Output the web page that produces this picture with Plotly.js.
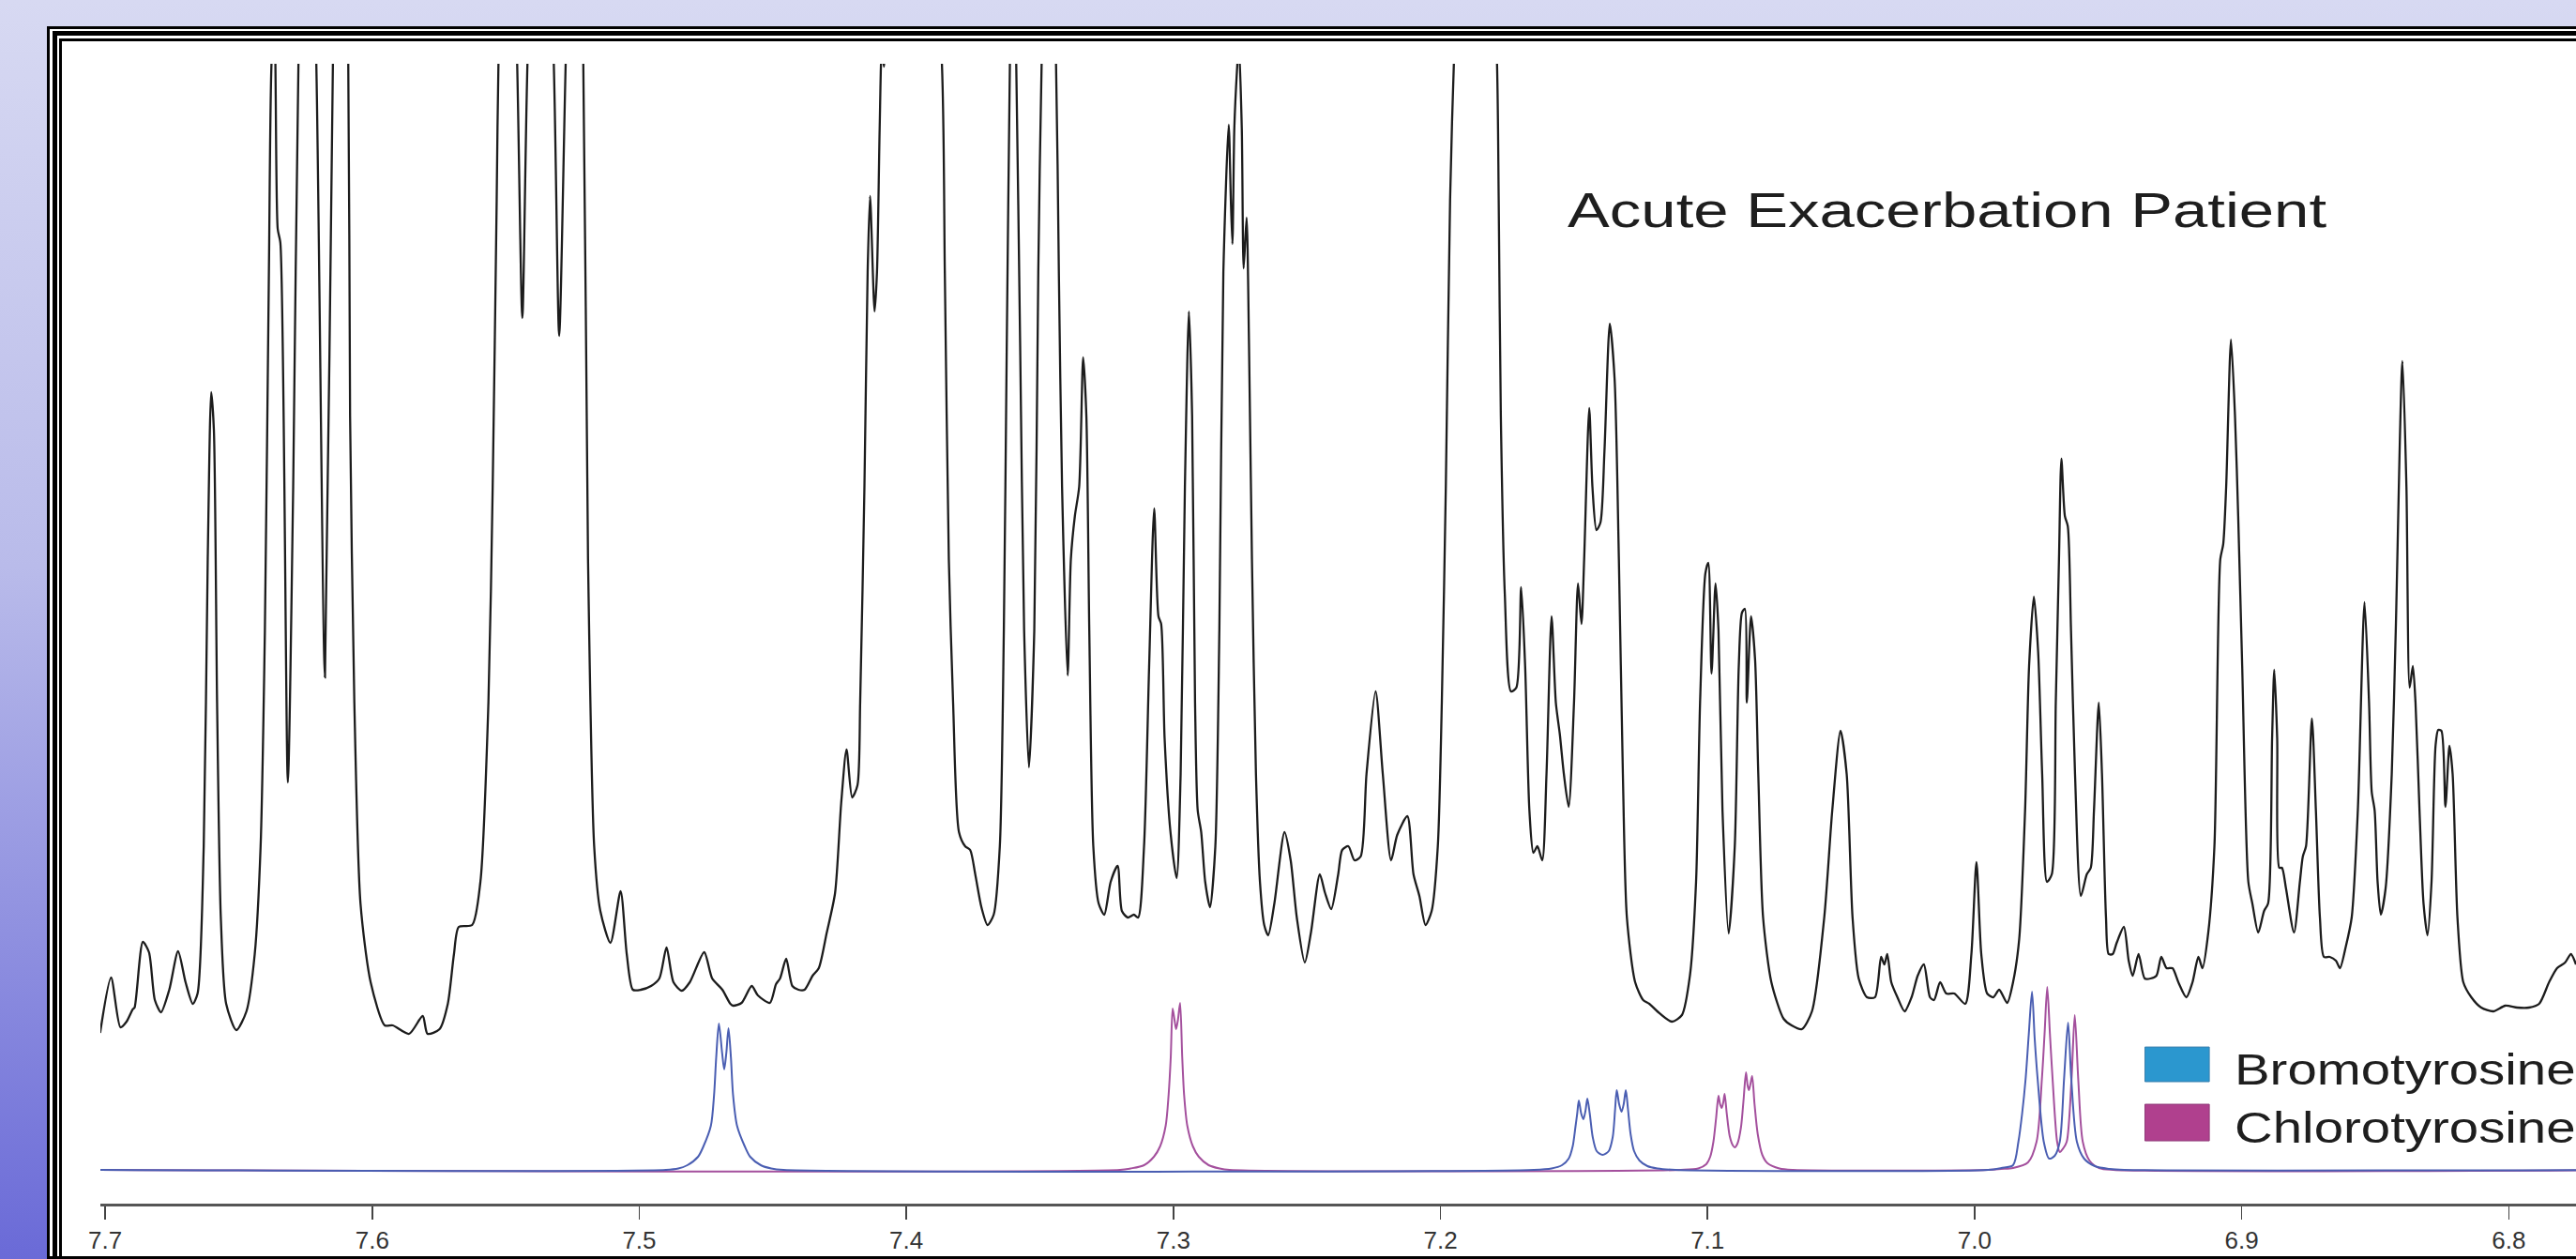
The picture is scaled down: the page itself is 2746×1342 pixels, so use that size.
<!DOCTYPE html>
<html>
<head>
<meta charset="utf-8">
<script src="https://cdn.plot.ly/plotly-3.0.1.min.js"></script>
<style>
  html, body { margin:0; padding:0; width:2746px; height:1342px; overflow:hidden; }
  body { background: linear-gradient(180deg, #d7d9f2 0%, #b9bbea 45%, #6a6ad7 100%); position:relative; }
  .fr { position:absolute; box-sizing:border-box; background:#fff; }
  #fa { left:50px; top:28px; width:2900px; height:1314px; border:3px solid #000; }
  #fb { left:56px; top:33px; width:2900px; height:1306px; border:5px solid #000; border-bottom:none; }
  #fc { left:63px; top:41px; width:2900px; height:1298px; border:3px solid #000; border-bottom:none; }
  #plot { position:absolute; left:0; top:0; width:2830px; height:1342px; }
  #plot text.annotation-text { transform-box: fill-box; transform-origin: 0% 50%; transform: scaleX(1.2); }
  #plot g.annotation[data-index="0"] text.annotation-text { transform: scaleX(1.29); }
</style>
</head>
<body>
<div class="fr" id="fa"></div>
<div class="fr" id="fb"></div>
<div class="fr" id="fc"></div>
<div id="plot"></div>
<script>
// ---------------- data (chemical shift in ppm, intensity in arbitrary units) ----------------
const patientShift = [
  7.7019,7.6978,7.6943,7.6920,7.6897,7.6890,7.6859,7.6836,7.6814,7.6791,7.6760,7.6727,7.6699,7.6672,7.6654,
  7.6631,7.6616,7.6603,7.6593,7.6581,7.6567,7.6547,7.6509,7.6471,7.6440,7.6418,7.6402,7.6387,7.6376,7.6366,
  7.6354,7.6344,7.6316,7.6296,7.6276,7.6244,7.6210,7.6177,7.6147,7.6119,7.6090,7.6083,7.6067,7.6044,7.6006,
  7.5953,7.5923,7.5862,7.5811,7.5793,7.5748,7.5717,7.5694,7.5676,7.5626,7.5595,7.5565,7.5549,7.5534,7.5527,
  7.5493,7.5458,7.5438,7.5418,7.5370,7.5321,7.5300,7.5275,7.5242,7.5210,7.5192,7.5169,7.5146,7.5108,7.5070,
  7.5047,7.5024,7.4994,7.4956,7.4925,7.4898,7.4872,7.4841,7.4811,7.4757,7.4727,7.4689,7.4659,
  7.4648,7.4617,7.4579,7.4556,7.4511,7.4488,7.4473,7.4450,7.4427,7.4404,7.4381,7.4351,7.4328,7.4298,7.4267,
  7.4244,7.4224,7.4203,7.4183,7.4173,7.4157,7.4145,7.4136,7.4119,7.4110,7.4100,7.4092,7.4084,7.4076,7.3978,
  7.3868,7.3856,7.3841,7.3825,7.3803,7.3780,7.3761,7.3742,7.3719,7.3696,7.3673,7.3650,7.3635,7.3624,7.3612,
  7.3602,7.3589,7.3574,7.3559,7.3541,7.3521,7.3506,7.3493,7.3468,7.3440,7.3429,7.3417,7.3396,7.3384,7.3369,
  7.3353,7.3338,7.3326,7.3315,7.3300,7.3280,7.3259,7.3235,7.3209,7.3193,7.3171,7.3148,7.3132,7.3110,7.3091,
  7.3072,7.3056,7.3046,7.3033,7.3011,7.2988,7.2973,7.2957,7.2942,7.2930,7.2919,7.2909,7.2896,7.2881,7.2863,
  7.2843,7.2828,7.2813,7.2793,7.2785,7.2779,7.2772,7.2762,7.2755,7.2744,7.2737,7.2726,7.2717,7.2706,7.2691,
  7.2676,7.2660,7.2645,7.2622,7.2584,7.2561,7.2538,7.2508,7.2485,7.2452,7.2432,7.2409,
  7.2383,7.2368,7.2345,7.2322,7.2299,7.2277,7.2243,7.2216,7.2185,7.2162,7.2124,7.2101,7.2079,7.2056,7.2033,
  7.2010,7.1995,7.1980,7.1964,7.1949,7.1870,7.1789,7.1782,7.1774,7.1759,7.1736,7.1716,7.1698,7.1683,7.1667,
  7.1652,7.1637,7.1619,7.1603,7.1584,7.1568,7.1553,7.1538,7.1520,7.1500,7.1485,7.1472,7.1462,7.1443,7.1431,
  7.1416,7.1401,7.1386,7.1366,7.1348,7.1332,7.1317,7.1302,7.1271,7.1241,7.1218,7.1188,7.1134,7.1096,7.1066,
  7.1043,7.1028,7.1008,7.0997,7.0985,7.0970,7.0959,7.0944,7.0921,7.0898,7.0883,7.0871,7.0860,7.0853,7.0837,
  7.0822,7.0810,7.0792,7.0761,7.0715,7.0685,7.0647,7.0609,7.0563,7.0533,7.0502,7.0479,7.0457,7.0434,7.0403,
  7.0373,7.0350,7.0338,7.0327,7.0312,7.0289,7.0262,7.0236,7.0213,7.0190,7.0167,7.0152,7.0129,7.0106,7.0076,
  7.0035,7.0012,6.9993,6.9975,6.9953,6.9930,6.9908,6.9878,6.9856,6.9833,6.9811,6.9796,6.9778,6.9762,6.9747,
  6.9729,6.9711,6.9696,6.9684,6.9675,6.9662,6.9651,6.9639,6.9624,6.9602,6.9580,6.9565,6.9553,6.9535,6.9523,
  6.9508,6.9498,6.9483,6.9468,6.9441,6.9423,6.9408,6.9386,6.9363,6.9341,6.9319,6.9301,6.9281,6.9259,6.9237,
  6.9207,6.9184,6.9162,6.9147,6.9125,6.9102,6.9080,6.9069,6.9058,6.9040,6.9025,6.9013,6.8998,6.8975,6.8960,
  6.8938,6.8916,6.8901,6.8886,6.8878,6.8867,6.8859,6.8849,6.8834,6.8804,6.8782,6.8771,6.8759,6.8737,6.8722,
  6.8707,6.8692,6.8670,6.8647,6.8632,6.8610,6.8588,6.8565,6.8540,6.8523,6.8513,6.8502,6.8491,6.8479,6.8461,
  6.8438,6.8423,6.8398,6.8383,6.8371,6.8359,6.8349,6.8334,6.8319,6.8304,6.8289,6.8274,6.8264,6.8252,6.8237,
  6.8222,6.8210,6.8192,6.8170,6.8140,6.8103,6.8058,6.8013,6.7968,6.7924,6.7886,6.7849,6.7819,6.7789,6.7767,
  6.7748
];
const patientIntensity = [
  14.6,20.5,15.2,15.8,17.1,17.3,24.3,23.2,18.1,16.8,19.2,23.3,20.0,17.7,18.8,
  34.5,65.1,82.9,78.9,49.8,26.9,17.7,14.9,16.9,23.0,34.5,57.5,95.7,118.7,121.0,
  100.3,98.8,41.3,72.8,118.7,150.0,118.7,52.5,118.7,150.0,118.7,80.4,49.8,28.4,20.0,
  15.4,15.4,14.5,16.4,14.5,15.0,17.7,23.0,25.9,26.1,30.7,49.8,72.8,103.4,118.7,
  150.0,118.7,90.8,118.7,150.0,118.7,88.9,118.7,150.0,118.7,65.1,34.5,27.6,24.2,29.7,
  23.0,19.2,19.2,19.6,20.4,23.7,20.0,19.1,20.0,23.2,20.4,19.2,17.7,
  17.5,17.8,19.6,18.6,17.8,19.8,20.4,22.5,19.6,19.2,19.2,20.7,21.5,25.3,29.5,
  39.1,44.8,39.7,41.0,49.8,72.8,95.7,103.8,91.5,95.7,111.0,119.5,117.6,125.0,160.0,
  118.7,95.7,65.1,49.8,36.0,34.5,34.1,31.5,28.0,26.1,27.2,34.5,57.5,88.1,118.7,
  135.0,118.7,88.1,57.5,42.9,57.5,95.7,118.7,140.0,118.7,95.7,72.8,52.7,65.1,69.7,
  72.8,86.6,80.4,57.5,34.5,28.4,27.2,30.7,32.4,27.6,26.9,27.2,26.9,34.5,53.6,
  70.5,59.0,58.2,46.0,36.0,31.1,42.2,72.8,91.5,80.4,49.8,38.3,36.0,30.7,28.0,
  34.5,57.5,95.7,111.4,103.4,98.7,111.0,117.2,120.0,111.0,96.1,101.5,88.1,65.1,42.2,
  30.7,26.1,25.0,28.4,36.0,33.0,26.9,22.1,25.3,31.5,29.5,27.8,
  31.5,34.1,34.5,33.0,33.4,42.2,51.0,42.2,33.0,35.7,37.7,31.5,29.2,26.1,27.6,
  34.5,49.8,72.8,103.4,118.7,170.0,118.7,103.4,80.4,61.3,51.0,51.4,62.1,53.7,38.3,
  33.8,34.5,33.0,42.2,59.0,49.8,46.4,42.2,38.7,49.8,62.5,58.2,65.1,81.2,72.8,
  68.2,69.0,76.6,90.2,84.3,65.1,42.2,26.9,20.0,18.1,17.7,16.9,15.8,16.5,20.7,
  30.7,49.8,63.6,64.7,52.9,62.5,57.5,38.3,25.2,34.5,53.7,59.4,59.8,49.8,59.0,
  54.4,42.2,26.9,20.0,16.1,15.4,15.0,16.9,26.9,38.3,46.8,42.2,26.9,20.4,18.4,
  18.4,22.7,21.9,23.0,20.0,18.4,16.9,18.4,20.7,21.9,18.4,18.1,20.0,18.8,18.8,
  17.7,23.0,32.8,23.0,18.8,18.4,19.2,17.8,20.0,24.6,38.3,53.7,61.1,55.2,42.2,
  30.7,31.5,49.8,65.1,75.8,69.7,68.6,57.5,42.2,29.2,31.5,32.2,38.3,49.8,42.2,
  26.9,23.0,23.0,24.2,25.9,22.3,20.7,23.0,20.4,20.4,20.7,22.7,21.5,21.5,20.0,
  18.4,20.0,22.7,21.5,25.3,34.5,65.1,66.7,72.8,88.5,80.4,69.7,53.7,30.7,28.4,
  25.3,27.6,28.4,46.0,53.3,46.0,32.2,32.2,30.0,25.3,30.7,33.4,34.5,48.1,38.3,
  26.9,22.7,22.7,22.3,21.5,23.8,26.9,38.3,60.5,49.8,40.3,38.3,30.7,27.2,30.0,
  42.2,57.5,86.2,72.8,51.4,53.7,49.8,38.3,28.4,25.0,30.7,45.2,46.9,46.8,38.7,
  45.2,42.2,26.9,20.0,18.4,17.3,16.9,17.5,17.3,17.3,17.7,20.0,21.5,22.1,23.0,
  21.9
];

const bromoShift = [
  7.7018,7.4900,7.4854,7.4820,7.4780,7.4760,7.4732,7.4720,7.4712,7.4702,7.4690,7.4682,7.4674,7.4666,
  7.4657,7.4649,7.4634,7.4605,7.4585,7.4545,7.4506,7.4460,
  7.1650,7.1584,7.1545,7.1520,7.1505,7.1495,7.1488,7.1482,7.1473,7.1465,7.1457,7.1450,7.1441,7.1430,
  7.1415,7.1393,7.1370,7.1355,7.1346,7.1340,7.1331,7.1322,7.1314,7.1306,7.1298,7.1288,7.1275,7.1255,
  7.1225,7.1188,7.1120,
  6.9950,6.9900,6.9856,6.9836,6.9822,6.9809,6.9797,6.9785,6.9775,6.9764,6.9741,6.9721,6.9700,6.9681,
  6.9665,6.9650,6.9638,6.9617,6.9590,6.9550,6.9495,6.9440,
  6.7450
];
const bromoIntensity = [
  0,0,0.15,0.5,1.4,2.5,4.7,8.0,12.0,15.6,12.5,10.7,12.5,15.1,
  12.0,8.0,4.7,2.5,1.4,0.5,0.15,0,
  0,0.15,0.5,1.2,2.5,4.5,6.0,7.4,6.0,5.4,6.3,7.6,6.0,3.5,
  2.0,1.6,2.0,3.5,6.5,8.5,7.0,6.2,7.0,8.5,6.5,3.8,2.0,1.0,
  0.4,0.15,0,
  0,0.2,0.5,3.0,6.0,9.7,14.5,19.0,14.0,9.7,3.0,1.2,1.5,3.0,
  9.7,15.7,9.7,3.0,1.2,0.4,0.1,0,
  0
];

const chloroShift = [
  7.7018,7.3200,7.3161,7.3110,7.3073,7.3050,7.3029,7.3018,7.3010,7.3003,7.2996,7.2990,7.2983,7.2975,
  7.2967,7.2960,7.2948,7.2927,7.2905,7.2868,7.2827,7.2790,
  7.1100,7.1035,7.1005,7.0990,7.0978,7.0968,7.0959,7.0953,7.0947,7.0941,7.0936,7.0928,7.0917,7.0905,
  7.0898,7.0888,7.0875,7.0865,7.0856,7.0850,7.0845,7.0839,7.0833,7.0824,7.0812,7.0795,7.0775,7.0731,
  7.0680,
  6.9950,6.9900,6.9856,6.9800,6.9768,6.9748,6.9738,6.9728,6.9718,6.9708,6.9691,6.9681,6.9668,6.9655,
  6.9637,6.9625,6.9612,6.9595,6.9570,6.9534,6.9480,
  6.7450
];
const chloroIntensity = [
  0,0,0.15,0.5,1.4,2.5,4.7,8.0,12.0,17.2,16.0,15.0,16.0,17.8,
  12.0,8.0,4.7,2.5,1.4,0.5,0.15,0,
  0,0.15,0.6,1.4,3.0,5.5,7.9,7.0,6.6,7.2,8.1,6.0,3.6,2.6,
  2.4,2.8,4.5,7.5,10.4,9.0,8.5,9.2,10.0,7.0,3.8,1.6,0.7,0.15,
  0,
  0,0.1,0.2,0.8,3.0,9.7,14.5,19.5,14.5,9.7,3.0,1.9,2.3,3.0,
  9.7,16.5,9.7,3.0,1.0,0.2,0,
  0
];

const titleText = "Acute Exacerbation Patient";
const seriesNames = ["Bromotyrosine", "Chlorotyrosine"];
const seriesLineColors = ["#4a5eb2", "#a4509d"];
const legendBoxColors = ["#2b97cf", "#b0408e"];

// ---------------- plot ----------------
const traces = [
  { x: chloroShift, y: chloroIntensity, type: "scatter", mode: "lines", name: seriesNames[1],
    line: { color: seriesLineColors[1], width: 2, shape: "spline", smoothing: 0.8 }, showlegend: false, hoverinfo: "skip" },
  { x: bromoShift, y: bromoIntensity, type: "scatter", mode: "lines", name: seriesNames[0],
    line: { color: seriesLineColors[0], width: 2, shape: "spline", smoothing: 0.8 }, showlegend: false, hoverinfo: "skip" },
  { x: patientShift, y: patientIntensity, type: "scatter", mode: "lines", name: titleText,
    line: { color: "#1c1c1c", width: 2.3, shape: "spline", smoothing: 0.7 }, showlegend: false, hoverinfo: "skip" }
];

const txtFont = { family: "Liberation Sans, Arial, sans-serif", color: "#1e1e1e" };

const layout = {
  width: 2830, height: 1342,
  margin: { l: 107, r: 0, t: 68, b: 59, pad: 0 },
  paper_bgcolor: "rgba(0,0,0,0)",
  plot_bgcolor: "rgba(0,0,0,0)",
  showlegend: false,
  xaxis: {
    range: [7.7018, 6.7453], autorange: false,
    tick0: 0, dtick: 0.1, tickformat: ".1f",
    ticks: "outside", ticklen: 14, tickwidth: 1.5, tickcolor: "#444",
    showline: true, linecolor: "#555", linewidth: 3,
    showgrid: false, zeroline: false,
    tickfont: { family: "Liberation Sans, Arial, sans-serif", size: 26, color: "#333" }
  },
  yaxis: { range: [-3.6, 117.9], autorange: false, visible: false, showgrid: false, zeroline: false },
  shapes: [
    { type: "rect", xref: "paper", yref: "paper", x0: 0.8004, x1: 0.8256, y0: 0.1070, y1: 0.1374,
      fillcolor: legendBoxColors[0], line: { color: "#3a7fae", width: 1 } },
    { type: "rect", xref: "paper", yref: "paper", x0: 0.8004, x1: 0.8256, y0: 0.0551, y1: 0.0872,
      fillcolor: legendBoxColors[1], line: { color: "#8f3a78", width: 1 } }
  ],
  annotations: [
    { text: titleText, xref: "paper", yref: "paper", x: 0.5736, y: 0.8716, xanchor: "left", yanchor: "middle",
      showarrow: false, font: Object.assign({ size: 52 }, txtFont) },
    { text: seriesNames[0], xref: "paper", yref: "paper", x: 0.8347, y: 0.1177, xanchor: "left", yanchor: "middle",
      showarrow: false, font: Object.assign({ size: 47 }, txtFont) },
    { text: seriesNames[1], xref: "paper", yref: "paper", x: 0.8347, y: 0.0667, xanchor: "left", yanchor: "middle",
      showarrow: false, font: Object.assign({ size: 47 }, txtFont) }
  ]
};

Plotly.newPlot("plot", traces, layout, { staticPlot: true, displayModeBar: false, responsive: false });
</script>
</body>
</html>
